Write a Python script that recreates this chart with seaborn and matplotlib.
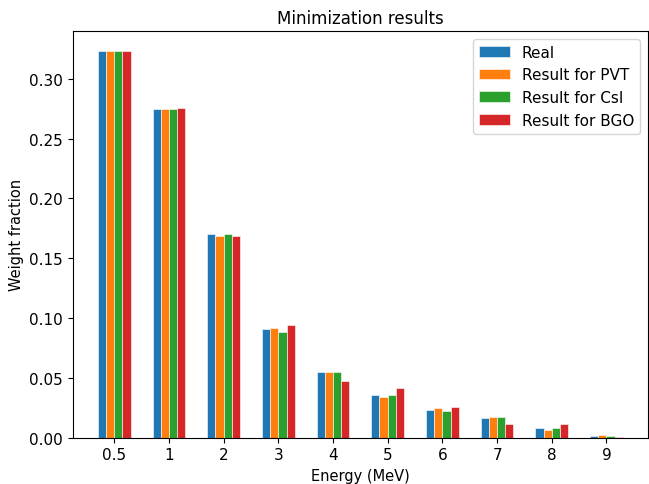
import matplotlib
matplotlib.use("Agg")
import matplotlib.pyplot as plt
import seaborn as sns
import pandas as pd

energies = ["0.5", "1", "2", "3", "4", "5", "6", "7", "8", "9"]
series_names = ["Real", "Result for PVT", "Result for CsI", "Result for BGO"]
real = [0.3236, 0.2746, 0.1707, 0.0905, 0.0545, 0.0358, 0.0235, 0.0165, 0.0084, 0.0014]
pvt = [0.3236, 0.2746, 0.1687, 0.0913, 0.0545, 0.0341, 0.0251, 0.0173, 0.0067, 0.0022]
csi = [0.3236, 0.2746, 0.1704, 0.0886, 0.0553, 0.0358, 0.0226, 0.0173, 0.0084, 0.0014]
bgo = [0.3236, 0.2754, 0.1687, 0.0941, 0.0475, 0.0419, 0.0260, 0.0112, 0.0112, 0.0006]

rows = []
for name, vals in zip(series_names, [real, pvt, csi, bgo]):
    for e, v in zip(energies, vals):
        rows.append({"Energy": e, "Series": name, "Value": v})
df = pd.DataFrame(rows)

fig = plt.figure(figsize=(6.49, 4.85), dpi=100)
ax = fig.add_axes([0.112, 0.0955, 0.8865, 0.8385])
sns.barplot(data=df, x="Energy", y="Value", hue="Series", order=energies,
            hue_order=series_names, palette=["#1f77b4", "#ff7f0e", "#2ca02c", "#d62728"],
            width=0.6, edgecolor="white", linewidth=0.4, saturation=1, errorbar=None, ax=ax)
ax.set_xlim(-0.76, 9.76)
ax.set_ylim(0, 0.34)
ax.tick_params(labelsize=11)
ax.set_xlabel("Energy (MeV)", fontsize=10.5)
ax.set_ylabel("Weight fraction", fontsize=10.5)
ax.set_title("Minimization results", fontsize=12)
ax.legend(loc="upper right", title=None, fontsize=11)
fig.savefig("out.png", dpi=100)
